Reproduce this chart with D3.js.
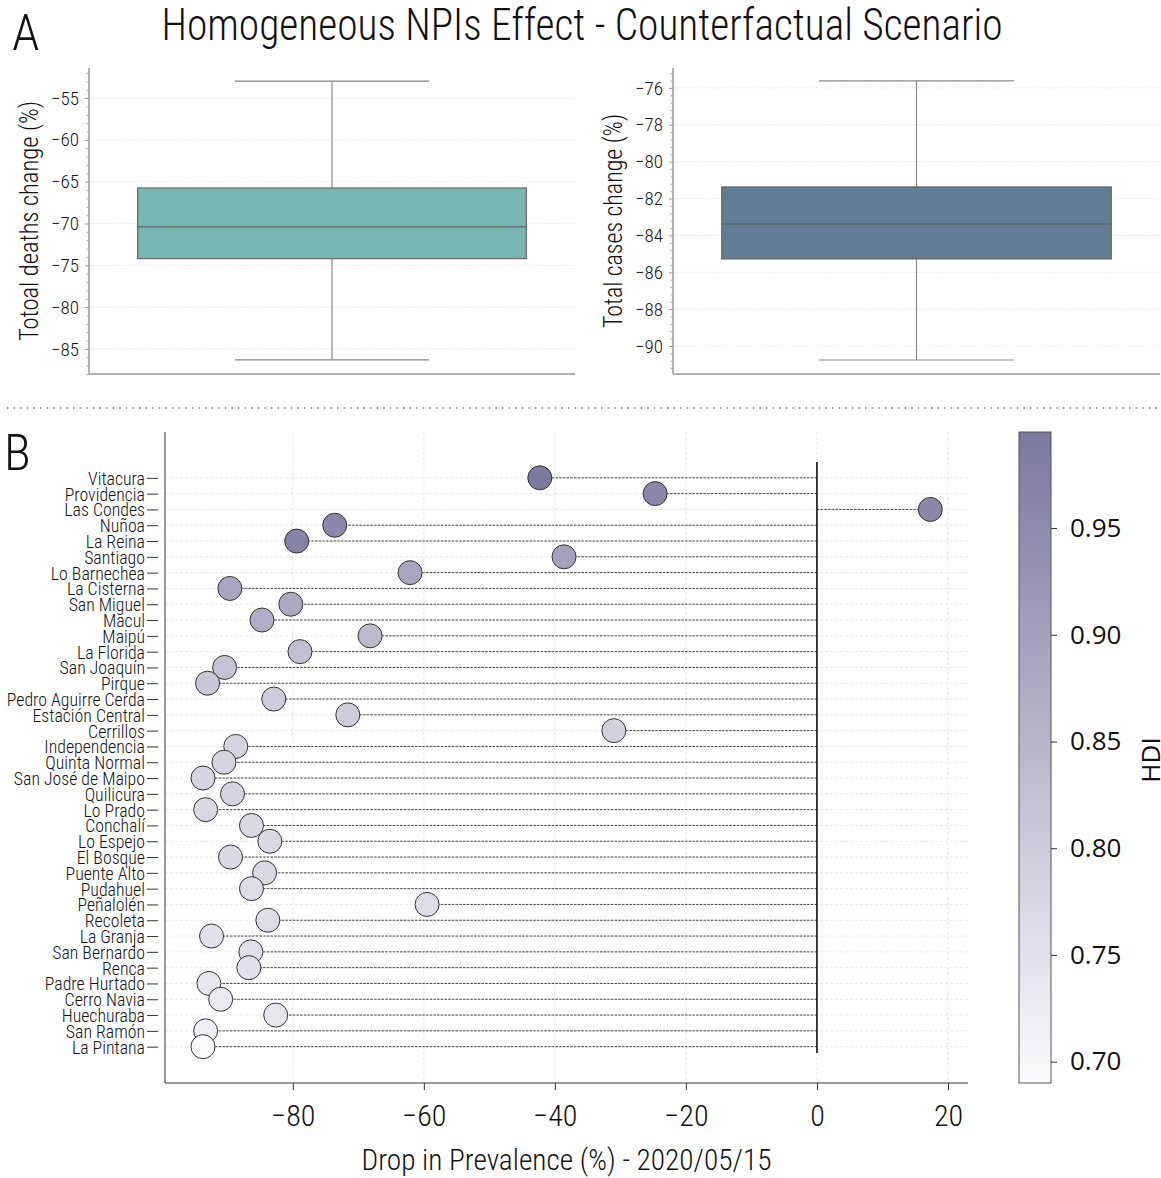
<!DOCTYPE html>
<html><head><meta charset="utf-8">
<script src="https://cdn.jsdelivr.net/npm/d3@7"></script>
<style>
body{margin:0;background:#fff;}
svg text{font-family:'Roboto Condensed','Liberation Sans Narrow','DejaVu Sans Condensed','Open Sans',sans-serif;font-stretch:condensed;fill:#111;}
.cb text{font-family:'Open Sans','DejaVu Sans',sans-serif;font-stretch:normal;}
</style></head><body>
<svg id="c" width="1161" height="1178"></svg>
<script>
// ---- Data ----
const deathsBox = {whiskerLow:-86.3, q1:-74.2, median:-70.4, q3:-65.75, whiskerHigh:-52.97};
const casesBox  = {whiskerLow:-90.76, q1:-85.28, median:-83.38, q3:-81.37, whiskerHigh:-75.62};
const deathsTicks = [-55,-60,-65,-70,-75,-80,-85];
const casesTicks = [-76,-78,-80,-82,-84,-86,-88,-90];
const communes = ["Vitacura","Providencia","Las Condes","Nuñoa","La Reina","Santiago","Lo Barnechea","La Cisterna","San Miguel","Macul","Maipú","La Florida","San Joaquín","Pirque","Pedro Aguirre Cerda","Estación Central","Cerrillos","Independencia","Quinta Normal","San José de Maipo","Quilicura","Lo Prado","Conchalí","Lo Espejo","El Bosque","Puente Alto","Pudahuel","Peñalolén","Recoleta","La Granja","San Bernardo","Renca","Padre Hurtado","Cerro Navia","Huechuraba","San Ramón","La Pintana"];
const prevalenceDrop = [-42.3,-24.7,17.3,-73.6,-79.4,-38.6,-62.1,-89.6,-80.3,-84.7,-68.2,-78.9,-90.4,-93.0,-82.9,-71.6,-31.0,-88.7,-90.5,-93.7,-89.2,-93.3,-86.3,-83.5,-89.5,-84.3,-86.3,-59.5,-83.8,-92.4,-86.4,-86.7,-92.8,-91.0,-82.6,-93.3,-93.7];
const hdi = [0.99,0.96,0.96,0.96,0.97,0.90,0.89,0.89,0.88,0.87,0.84,0.83,0.82,0.81,0.80,0.80,0.79,0.78,0.78,0.78,0.78,0.77,0.77,0.77,0.77,0.77,0.76,0.76,0.76,0.75,0.75,0.75,0.74,0.73,0.74,0.72,0.69];
const xTicksB = [-80,-60,-40,-20,0,20];
const hdiTicks = [0.70,0.75,0.80,0.85,0.90,0.95];

const svg = d3.select("#c");
const gridCol = "#e3e3e3";

svg.append("text").attr("x",582).attr("y",40).attr("text-anchor","middle").attr("font-size",44).attr("font-weight",300)
  .attr("textLength",841).attr("lengthAdjust","spacingAndGlyphs").text("Homogeneous NPIs Effect - Counterfactual Scenario");
svg.append("text").attr("x",12).attr("y",50).attr("font-size",50).attr("font-weight",300).text("A");
svg.append("text").attr("x",4).attr("y",470).attr("font-size",50).attr("font-weight",300).text("B");

svg.append("line").attr("x1",7).attr("x2",1161).attr("y1",408).attr("y2",408)
  .attr("stroke","#999").attr("stroke-width",2).attr("stroke-dasharray","1.5,5.1");

function boxPanel(opt){
  const {left,right,top,bottom,domain,ticks,box,color,label} = opt;
  const y = d3.scaleLinear().domain(domain).range([bottom,top]);
  const x = d3.scaleLinear().domain([-0.5,0.5]).range([left,right]);
  const g = svg.append("g");
  g.selectAll(".gr").data(ticks).join("line").attr("x1",left).attr("x2",right)
    .attr("y1",d=>y(d)).attr("y2",d=>y(d)).attr("stroke",gridCol).attr("stroke-dasharray","2,1.5").attr("stroke-width",0.8);
  g.append("line").attr("x1",x(0)).attr("x2",x(0)).attr("y1",y(box.q3)).attr("y2",y(box.whiskerHigh)).attr("stroke","#8a8a8a").attr("stroke-width",1.2);
  g.append("line").attr("x1",x(0)).attr("x2",x(0)).attr("y1",y(box.q1)).attr("y2",y(box.whiskerLow)).attr("stroke","#8a8a8a").attr("stroke-width",1.2);
  [box.whiskerHigh,box.whiskerLow].forEach(v=>{
    g.append("line").attr("x1",x(-0.2)).attr("x2",x(0.2)).attr("y1",y(v)).attr("y2",y(v)).attr("stroke","#8a8a8a").attr("stroke-width",1.2);
  });
  g.append("rect").attr("x",x(-0.4)).attr("width",x(0.4)-x(-0.4)).attr("y",y(box.q3)).attr("height",y(box.q1)-y(box.q3))
    .attr("fill",color).attr("stroke","#6a6a6a").attr("stroke-width",1.2);
  g.append("line").attr("x1",x(-0.4)).attr("x2",x(0.4)).attr("y1",y(box.median)).attr("y2",y(box.median)).attr("stroke","#5a6a6a").attr("stroke-width",1.4);
  const major = ticks;
  const step = Math.abs(ticks[1]-ticks[0]);
  const minor = d3.range(Math.ceil(domain[0]/(step/5)), Math.floor(domain[1]/(step/5))+1).map(i=>i*step/5).filter(v=>!major.some(m=>Math.abs(m-v)<1e-6));
  const ax = d3.axisLeft(y).tickValues(major).tickSize(4).tickPadding(6).tickFormat(d=>String(d).replace("-","\u2212"));
  const ag = g.append("g").attr("transform",`translate(${left},0)`).call(ax);
  ag.select(".domain").attr("stroke","#999").attr("stroke-width",1.5).attr("d",`M-0,${bottom}V${top}`);
  ag.selectAll(".tick line").attr("stroke","#999");
  ag.selectAll("text").attr("font-size",19).attr("font-weight",300).attr("fill","#222");
  const ax2 = d3.axisLeft(y).tickValues(minor).tickSize(2.5).tickFormat("");
  const ag2 = g.append("g").attr("transform",`translate(${left},0)`).call(ax2);
  ag2.select(".domain").remove(); ag2.selectAll(".tick line").attr("stroke","#aaa");
  g.append("line").attr("x1",left).attr("x2",right).attr("y1",bottom).attr("y2",bottom).attr("stroke","#999").attr("stroke-width",1.5);
  g.append("text").attr("transform",`translate(${left-51},${(top+bottom)/2}) rotate(-90)`).attr("text-anchor","middle")
    .attr("font-size",26).attr("font-weight",300).attr("textLength",opt.labelLen).attr("lengthAdjust","spacingAndGlyphs").text(label);
}

boxPanel({left:89,right:575,top:68,bottom:374,domain:[-88.0,-51.4],ticks:deathsTicks,box:deathsBox,color:"#78b6b1",label:"Totoal deaths change (%)",labelLen:240});
boxPanel({left:673,right:1160,top:68,bottom:374,domain:[-91.52,-74.92],ticks:casesTicks,box:casesBox,color:"#627d93",label:"Total cases change (%)",labelLen:214});

// ---- Panel B ----
const L=165,R=968,T=432,B=1083;
const x = d3.scaleLinear().domain([-99.5,23.05]).range([L,R]);
const yi = d3.scaleLinear().domain([-2.9,38.3]).range([T,B]);
const y = (name)=>yi(communes.indexOf(name));
const cmin=0.690,cmax=0.995;
const color = d3.scaleLinear().domain([cmin,cmax]).range(["#fbfbfd","#7b789e"]);
const gB = svg.append("g");
gB.selectAll(".hg").data(communes).join("line").attr("x1",L).attr("x2",R).attr("y1",d=>y(d)).attr("y2",d=>y(d))
  .attr("stroke",gridCol).attr("stroke-dasharray","3,2").attr("stroke-width",0.8);
gB.selectAll(".vg").data(xTicksB).join("line").attr("x1",d=>x(d)).attr("x2",d=>x(d)).attr("y1",T).attr("y2",B)
  .attr("stroke",gridCol).attr("stroke-dasharray","3,2").attr("stroke-width",0.8);
gB.selectAll(".stem").data(communes).join("line").attr("x1",x(0)).attr("x2",(d,i)=>x(prevalenceDrop[i]))
  .attr("y1",d=>y(d)).attr("y2",d=>y(d)).attr("stroke","#333").attr("stroke-width",0.9).attr("stroke-dasharray","2.5,1.2");
gB.append("line").attr("x1",x(0)).attr("x2",x(0)).attr("y1",yi(-1)).attr("y2",yi(36.4)).attr("stroke","#111").attr("stroke-width",1.6);
gB.selectAll(".dot").data(communes).join("circle").attr("cx",(d,i)=>x(prevalenceDrop[i])).attr("cy",d=>y(d)).attr("r",12)
  .attr("fill",(d,i)=>color(hdi[i])).attr("stroke","#333").attr("stroke-width",1);
const axL = d3.axisLeft(yi).tickValues(d3.range(communes.length)).tickSize(7).tickPadding(4).tickFormat(i=>communes[i]);
const gL = gB.append("g").attr("transform",`translate(${L},0)`).call(axL);
gL.select(".domain").attr("d",`M0,${B}V${T}`).attr("stroke","#777").attr("stroke-width",1.5);
gL.selectAll(".tick line").attr("stroke","#333").attr("x2",-7).attr("x1",-18);
gL.selectAll(".tick text").attr("font-size",17.8).attr("font-weight",300).attr("fill","#111").attr("x",-20).attr("dy","0.36em");
const axBm = d3.axisBottom(x).tickValues(xTicksB).tickSize(7).tickPadding(15).tickFormat(d=>String(d).replace("-","\u2212"));
const gBm = gB.append("g").attr("transform",`translate(0,${B})`).call(axBm);
gBm.select(".domain").attr("d",`M${L},0H${R}`).attr("stroke","#777").attr("stroke-width",1.5);
gBm.selectAll(".tick line").attr("stroke","#333");
gBm.selectAll(".tick text").attr("font-size",30).attr("font-weight",300).attr("fill","#111");
gB.append("text").attr("x",(L+R)/2).attr("y",1170).attr("text-anchor","middle").attr("font-size",30).attr("font-weight",300)
  .attr("textLength",410).attr("lengthAdjust","spacingAndGlyphs").text("Drop in Prevalence (%) - 2020/05/15");

// colorbar
const cbL=1019,cbW=32;
const cy = d3.scaleLinear().domain([cmin,cmax]).range([B,T]);
const defs = svg.append("defs");
const grad = defs.append("linearGradient").attr("id","cbg").attr("x1",0).attr("x2",0).attr("y1",1).attr("y2",0);
grad.append("stop").attr("offset",0).attr("stop-color",color(cmin));
grad.append("stop").attr("offset",1).attr("stop-color",color(cmax));
const cb = svg.append("g").attr("class","cb");
cb.append("rect").attr("x",cbL).attr("y",T).attr("width",cbW).attr("height",B-T).attr("fill","url(#cbg)").attr("stroke","#555").attr("stroke-width",1);
const axC = d3.axisRight(cy).tickValues(hdiTicks).tickSize(6).tickPadding(13).tickFormat(d3.format(".2f"));
const gC = cb.append("g").attr("transform",`translate(${cbL+cbW},0)`).call(axC);
gC.select(".domain").remove();
gC.selectAll(".tick line").attr("stroke","#333");
gC.selectAll(".tick text").attr("font-size",26).attr("fill","#111");
cb.append("text").attr("transform",`translate(1160,760) rotate(-90)`).attr("text-anchor","middle").attr("font-size",26).text("HDI");
</script></body></html>
